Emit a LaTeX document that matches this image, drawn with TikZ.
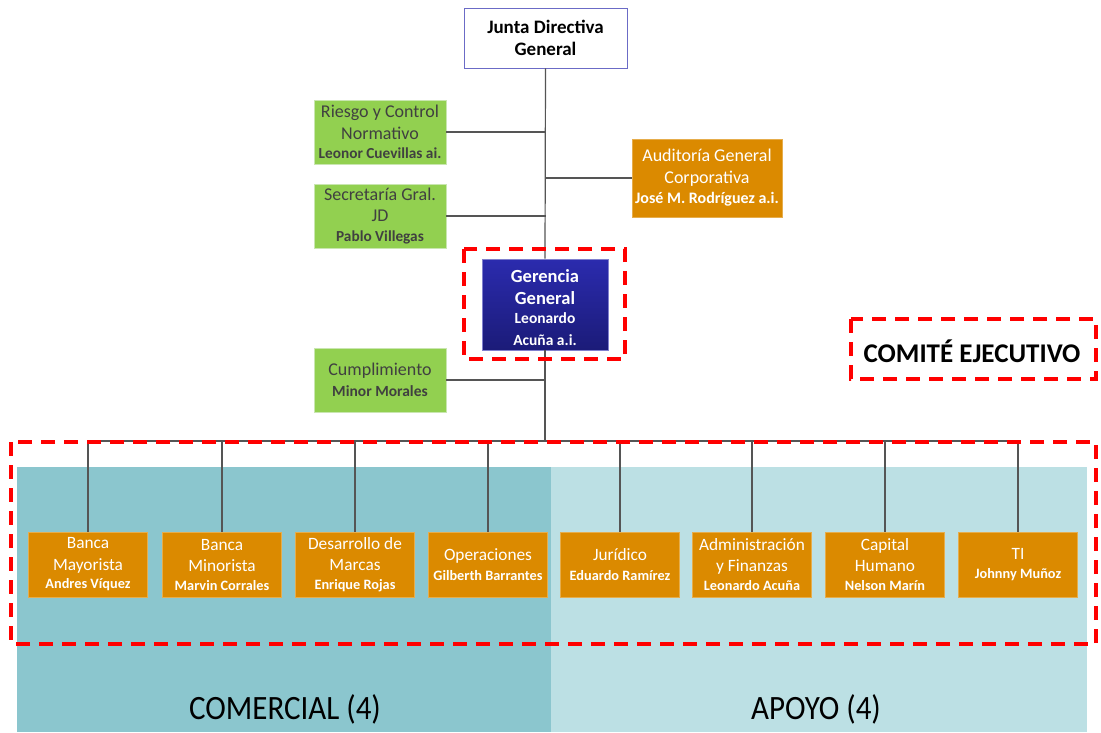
\documentclass[tikz,border=0pt]{standalone}
\usepackage{fontspec}
\setmainfont{Carlito}
\begin{document}
\definecolor{boxorange}{HTML}{DB8A00}
\definecolor{boxgreen}{HTML}{92D050}
\definecolor{greenedge}{HTML}{C9E6B0}
\definecolor{greentext}{HTML}{404040}
\definecolor{panelA}{HTML}{8BC6CE}
\definecolor{panelB}{HTML}{BCE0E4}
\definecolor{linkgray}{HTML}{555555}
\definecolor{ggtop}{HTML}{2B2BAE}
\definecolor{ggbot}{HTML}{1B1B78}
\definecolor{redline}{HTML}{FF0000}
\begin{tikzpicture}[x=1pt,y=-1pt,
  link/.style={draw=linkgray,line width=1.2pt},
  greenbox/.style={fill=boxgreen,draw=greenedge,line width=0.8pt,minimum width=132pt,minimum height=64pt,
    text width=132pt,align=flush center,inner sep=0pt,text=greentext,font=\fontsize{18}{21.5}\selectfont},
  orangebox/.style={fill=boxorange,draw=boxorange!70!white,line width=0.6pt,minimum width=119pt,minimum height=65pt,
    text width=119pt,align=flush center,inner sep=0pt,text=white,font=\fontsize{17.3}{21.5}\selectfont},
  redbox/.style={draw=redline,line width=3.6pt,dash pattern=on 14pt off 9pt},
  areaname/.style={font=\fontsize{31}{31}\selectfont,text=black,inner sep=0pt}
]
\useasboundingbox (0,0) rectangle (1101,732);
\fill[white] (0,0) rectangle (1101,732);

% area panels
\fill[panelA] (17,467) rectangle (551,732);
\fill[panelB] (551,467) rectangle (1087,732);
\node[areaname] (comercial) at (285,709) {\scalebox{1.0}[1.1]{COMERCIAL (4)}};
\node[areaname] (apoyo) at (816,709) {\scalebox{1.0}[1.1]{APOYO (4)}};

% board
\node[draw=ggtop!70!white,line width=0.8pt,fill=white,minimum width=163pt,minimum height=60pt,
  align=flush center,inner sep=0pt,font=\fontsize{19}{22}\selectfont\bfseries] (junta) at (545.5,38) {Junta Directiva\\General};

% general management
\node[shade,top color=ggtop,bottom color=ggbot,draw=ggtop!60!white,line width=0.6pt,
  minimum width=126pt,minimum height=91pt,inner sep=0pt] (gg) at (545,304.5) {};
\node[text width=126pt,align=flush center,inner sep=0pt,text=white,
  font=\fontsize{18.5}{22}\selectfont\bfseries] (ggtext) at ([yshift=-3pt]gg.center)
  {Gerencia\\General\\[-1pt]{\fontsize{15.5}{20}\selectfont Leonardo\\Acuña a.i.}};

% trunk
\coordinate (bus) at (545,441);
\draw[link] (junta.south) -- (gg.north);
\draw[link] (gg.south) -- (bus);

% staff units
\node[greenbox] (riesgo) at (380,132) {Riesgo y Control\\Normativo\\[-2pt]{\fontsize{15.3}{17}\selectfont\bfseries Leonor Cuevillas ai.}};
\node[greenbox] (secre) at (380,216) {Secretaría Gral.\\JD\\[-2pt]{\fontsize{15.3}{17}\selectfont\bfseries Pablo Villegas}};
\node[greenbox] (cumpl) at (380,380) {Cumplimiento\\[-1pt]{\fontsize{15.5}{17}\selectfont\bfseries Minor Morales}};
\node[orangebox,minimum width=150pt,text width=150pt,minimum height=78pt,font=\fontsize{18}{22}\selectfont] (audit) at (707,178)
  {Auditoría General\\Corporativa\\[-2pt]{\fontsize{16}{17}\selectfont\bfseries José M. Rodríguez a.i.}};

\draw[link] (riesgo.east) -- (riesgo.east -| junta.south);
\draw[link] (secre.east) -- (secre.east -| junta.south);
\draw[link] (cumpl.east) -- (cumpl.east -| junta.south);
\draw[link] (audit.west) -- (audit.west -| junta.south);

% line units
\node[orangebox] (b1) at (88,564.5) {Banca\\Mayorista\\[-3pt]{\fontsize{14.3}{16}\selectfont\bfseries Andres Víquez}};
\node[orangebox] (b2) at (222,564.5) {Banca\\Minorista\\[-3pt]{\fontsize{14.3}{16}\selectfont\bfseries Marvin Corrales}};
\node[orangebox] (b3) at (355,564.5) {Desarrollo de\\Marcas\\[-3pt]{\fontsize{14.3}{16}\selectfont\bfseries Enrique Rojas}};
\node[orangebox] (b4) at (488,564.5) {Operaciones\\[-2pt]{\fontsize{14.3}{16}\selectfont\bfseries Gilberth Barrantes}};
\node[orangebox] (b5) at (620,564.5) {Jurídico\\[-2pt]{\fontsize{14.3}{16}\selectfont\bfseries Eduardo Ramírez}};
\node[orangebox] (b6) at (752,564.5) {Administración\\y Finanzas\\[-3pt]{\fontsize{14.3}{16}\selectfont\bfseries Leonardo Acuña}};
\node[orangebox] (b7) at (885,564.5) {Capital\\Humano\\[-3pt]{\fontsize{14.3}{16}\selectfont\bfseries Nelson Marín}};
\node[orangebox] (b8) at (1018,564.5) {TI\\[-2pt]{\fontsize{14.3}{16}\selectfont\bfseries Johnny Muñoz}};

\draw[link] (b1.north |- bus) -- (b8.north |- bus);
\foreach \b in {b1,b2,b3,b4,b5,b6,b7,b8}
  \draw[link] (\b.north |- bus) -- (\b.north);

% executive committee markers
\draw[redbox] (464,249) rectangle (625,359);
\draw[redbox] (11,442) rectangle (1096,644);
\draw[redbox] (851,319) rectangle (1096,379);
\node[font=\fontsize{27}{27}\selectfont\bfseries] (comite) at (972,351) {COMITÉ EJECUTIVO};
\end{tikzpicture}
\end{document}
